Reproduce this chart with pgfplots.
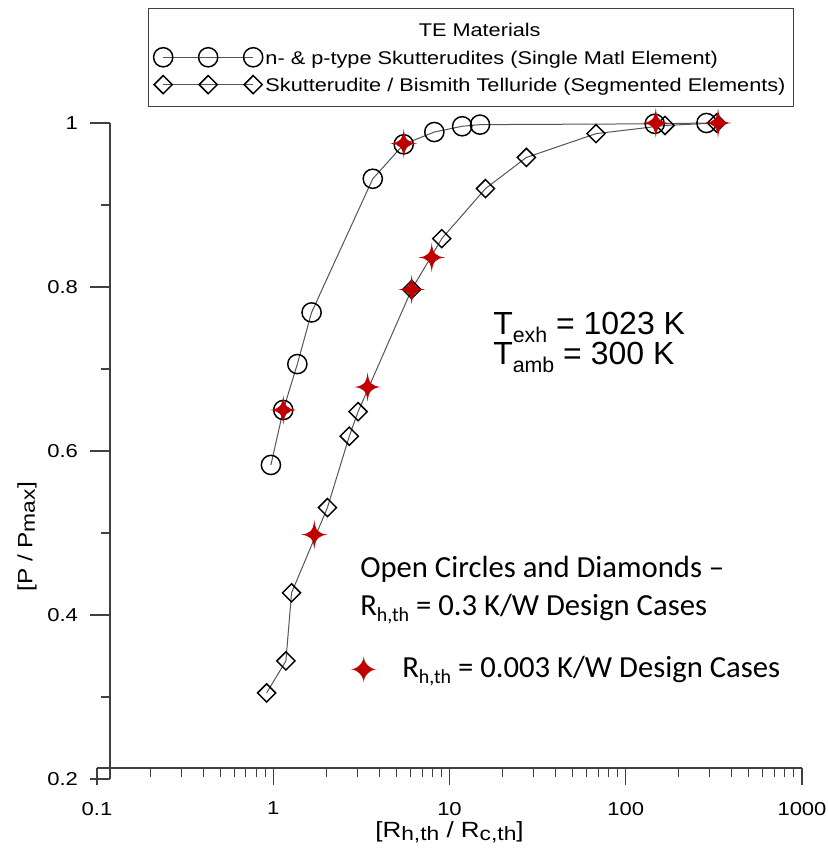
\documentclass[border=0pt]{standalone}
\usepackage{fontspec}
\setmainfont{Liberation Sans}
\newfontfamily\chartfont{Liberation Sans}[FakeStretch=1.18]
\newfontfamily\carlito{Carlito}
\newfontfamily\dejavu{DejaVu Sans}
\usepackage{pgfplots}
\pgfplotsset{compat=1.18}
\definecolor{starred}{HTML}{C00000}
\definecolor{linegray}{HTML}{555555}
\definecolor{axgray}{HTML}{404040}
\newcommand\lsub[1]{\raisebox{-2pt}{\fontsize{14.5}{14.5}\selectfont #1}}
\newcommand\bsub[1]{\raisebox{-6pt}{\fontsize{16}{16}\selectfont #1}}
\newcommand\csub[1]{\raisebox{-4.5pt}{\fontsize{15}{15}\selectfont #1}}
\pgfdeclareplotmark{star4}{%
  \pgfpathmoveto{\pgfqpoint{0pt}{1.1\pgfplotmarksize}}%
  \pgfpathcurveto{\pgfqpoint{0.08\pgfplotmarksize}{0.3\pgfplotmarksize}}{\pgfqpoint{0.3\pgfplotmarksize}{0.08\pgfplotmarksize}}{\pgfqpoint{\pgfplotmarksize}{0pt}}%
  \pgfpathcurveto{\pgfqpoint{0.3\pgfplotmarksize}{-0.08\pgfplotmarksize}}{\pgfqpoint{0.08\pgfplotmarksize}{-0.3\pgfplotmarksize}}{\pgfqpoint{0pt}{-1.1\pgfplotmarksize}}%
  \pgfpathcurveto{\pgfqpoint{-0.08\pgfplotmarksize}{-0.3\pgfplotmarksize}}{\pgfqpoint{-0.3\pgfplotmarksize}{-0.08\pgfplotmarksize}}{\pgfqpoint{-\pgfplotmarksize}{0pt}}%
  \pgfpathcurveto{\pgfqpoint{-0.3\pgfplotmarksize}{0.08\pgfplotmarksize}}{\pgfqpoint{-0.08\pgfplotmarksize}{0.3\pgfplotmarksize}}{\pgfqpoint{0pt}{1.1\pgfplotmarksize}}%
  \pgfpathclose\pgfusepathqfill}
\pgfplotstableread{
x y
0.97 0.583
1.14 0.650
1.37 0.706
1.65 0.769
3.67 0.932
5.5 0.974
8.2 0.989
11.8 0.996
14.9 0.998
146 0.999
287 1.0
}\circdata
\pgfplotstableread{
x y
0.917 0.305
1.18 0.344
1.27 0.427
2.03 0.531
2.70 0.618
3.03 0.648
6.1 0.797
9.04 0.859
16.0 0.920
27.3 0.958
67.8 0.987
167 0.997
327 1.0
}\diamdata
\pgfplotstableread{
x y
1.14 0.650
1.71 0.498
3.43 0.678
5.5 0.975
6.1 0.797
7.93 0.836
148 1.0
334 1.0
}\stardata
\begin{document}
\begin{tikzpicture}
\begin{axis}[
  scale only axis, width=528.75pt, height=492pt,
  xmode=log, xmin=0.1, xmax=1000, ymin=0.2, ymax=1,
  axis x line*=bottom, axis y line*=left,
  axis x line shift=-8.25pt, axis y line shift=-9.75pt,
  axis line style={line width=0.9pt, axgray},
  tick align=outside,
  major tick length=13pt, minor tick length=7pt,
  tick style={line width=0.8pt, axgray},
  ytick style={/pgfplots/major tick length=15pt},
  xtick={0.1,1,10,100,1000}, xticklabels={0.1,1,10,100,1000},
  minor xtick={0.2,0.3,0.4,0.5,0.6,0.7,0.8,0.9,2,3,4,5,6,7,8,9,20,30,40,50,60,70,80,90,200,300,400,500,600,700,800,900},
  ytick={0.2,0.4,0.6,0.8,1}, yticklabels={0.2,0.4,0.6,0.8,1},
  minor ytick={0.3,0.5,0.7,0.9},
  ticklabel style={font=\chartfont\fontsize{14}{16}\selectfont},
  xticklabel style={yshift=-9pt},
  yticklabel style={xshift=-7.5pt},
  every axis x label/.style={at={(axis description cs:0.5,0)}, anchor=base, yshift=-44.25pt, font=\chartfont\fontsize{16.5}{18}\selectfont},
  every axis y label/.style={at={(axis description cs:-0.0993,0.369)}, rotate=90, anchor=center, font=\chartfont\fontsize{15.5}{17}\selectfont},
  xlabel={[R\lsub{h,th} / R\lsub{c,th}]},
  ylabel={[P / P\lsub{max}]},
  legend style={at={(0.0723,1.1753)}, anchor=north west, draw=axgray, font=\chartfont\fontsize{13.8}{16}\selectfont,
    inner xsep=4pt, inner ysep=7.5pt, row sep=3pt,
    cells={anchor=west, inner sep=1pt, text height=12pt, text depth=4.75pt},
    /tikz/every even column/.style={column sep=0pt}},
  legend cell align=left,
  legend image code/.code={\draw[#1, mark repeat=1, mark phase=1] plot coordinates {(0pt,0pt) (33.75pt,0pt) (67.5pt,0pt)};},
]
\addlegendimage{empty legend}
\addlegendentry{\hspace*{115pt}TE Materials}
\addplot[linegray, line width=0.75pt, mark=o, mark size=7.2pt, mark options={black, line width=1.1pt}] table {\circdata};
\addlegendentry{n- \& p-type Skutterudites (Single Matl Element)}
\addplot[linegray, line width=0.75pt, mark=square, mark size=4.8pt, mark options={black, line width=1.1pt, rotate=45}] table {\diamdata};
\addlegendentry{Skutterudite / Bismith Telluride (Segmented Elements)}
\addplot[only marks, mark=star4, mark size=10pt, color=starred, forget plot] table {\stardata};
\end{axis}
\node[anchor=base west, inner sep=0, font=\fontsize{24}{28}\selectfont] at (297pt,333pt) {T\bsub{exh} = 1023 K};
\node[anchor=base west, inner sep=0, font=\fontsize{24}{28}\selectfont] at (297pt,310.5pt) {T\bsub{amb} = 300 K};
\node[anchor=base west, inner sep=0, font=\carlito\fontsize{23}{27}\selectfont] at (197.25pt,150.75pt) {Open Circles and Diamonds –};
\node[anchor=base west, inner sep=0, font=\carlito\fontsize{23}{27}\selectfont] at (197.25pt,122.25pt) {R\csub{h,th} = 0.3 K/W Design Cases};
\node[anchor=base west, inner sep=0, font=\carlito\fontsize{23}{27}\selectfont] at (228.75pt,75.75pt) {R\csub{h,th} = 0.003 K/W Design Cases};
\node[text=starred, font=\dejavu\fontsize{28}{28}\selectfont, inner sep=0] at (200.25pt,81.75pt) {✦};
\pgfresetboundingbox
\useasboundingbox (-72.75pt,-51.75pt) rectangle (547.5pt,584.25pt);
\end{tikzpicture}
\end{document}
